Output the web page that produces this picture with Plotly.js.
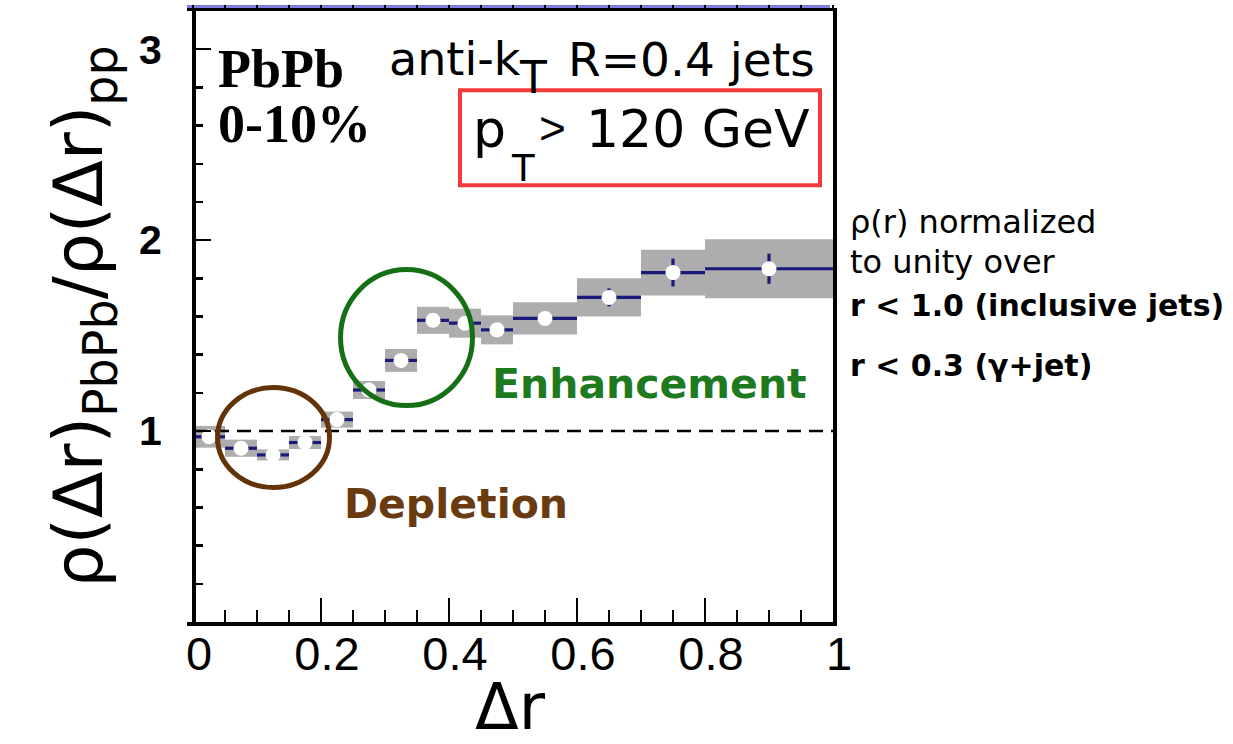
<!DOCTYPE html>
<html>
<head>
<meta charset="utf-8">
<script src="https://cdn.plot.ly/plotly-3.0.1.min.js"></script>
<style>
  html, body { margin: 0; padding: 0; background: #ffffff; }
  #chart { width: 1233px; height: 744px; }
</style>
</head>
<body>
<div id="chart"></div>
<script>
// Jet shape ratio rho(Δr) PbPb / pp, 0-10% centrality, anti-kT R=0.4, pT > 120 GeV
const binLow  = [0.00, 0.05, 0.10, 0.15, 0.20, 0.25, 0.30, 0.35, 0.40, 0.45, 0.50, 0.60, 0.70, 0.80];
const binHigh = [0.05, 0.10, 0.15, 0.20, 0.25, 0.30, 0.35, 0.40, 0.45, 0.50, 0.60, 0.70, 0.80, 1.00];
const ratio   = [0.97, 0.91, 0.875, 0.94, 1.06, 1.215, 1.37, 1.58, 1.565, 1.53, 1.59, 1.70, 1.83, 1.85];
const statErr = [0.010, 0.010, 0.010, 0.012, 0.015, 0.018, 0.020, 0.022, 0.025, 0.028, 0.032, 0.047, 0.073, 0.079];
const sysErr  = [0.057, 0.045, 0.029, 0.034, 0.042, 0.047, 0.060, 0.071, 0.076, 0.076, 0.084, 0.100, 0.120, 0.155];
const unityLevel = 1;

const xTickVals = [0, 0.2, 0.4, 0.6, 0.8, 1];
const xTickText = ['0', '0.2', '0.4', '0.6', '0.8', '1'];
const yTickVals = [1, 2, 3];
const yTickText = ['1', '2', '3'];

// derived bin geometry
const binCenter = binLow.map((lo, i) => (lo + binHigh[i]) / 2);
const binWidth  = binLow.map((lo, i) => binHigh[i] - lo);
const binHalf   = binWidth.map(w => w / 2);
const sysBase   = ratio.map((v, i) => v - sysErr[i]);
const sysSpan   = sysErr.map(e => 2 * e);

// page geometry (pixels)
const W = 1233, H = 744;
const M = { l: 187, r: 400, t: 11, b: 122 };
const plotW = W - M.l - M.r, plotH = H - M.t - M.b;
const xRange = [-0.009375, 1.0];
const yRange = [0, 3.2];
const px = x => (x - M.l) / plotW;          // pixel column -> paper x
const py = y => (H - M.b - y) / plotH;      // pixel row -> paper y

const NAVY = '#1a1a7a';
const SANS = 'DejaVu Sans, Verdana, sans-serif';
const ARIAL = 'Arial, Liberation Sans, Helvetica';
const SERIF = 'Times New Roman, Liberation Serif, serif';

const traces = [
  {
    type: 'bar',
    x: binCenter, width: binWidth, base: sysBase, y: sysSpan,
    marker: { color: '#adadad', line: { width: 0 } },
    hoverinfo: 'skip', showlegend: false
  },
  {
    type: 'scatter', mode: 'lines',
    x: [xTickVals[0], xTickVals[xTickVals.length - 1]],
    y: [unityLevel, unityLevel],
    line: { color: '#000000', width: 2.5, dash: '14px,8px' },
    hoverinfo: 'skip', showlegend: false
  },
  {
    type: 'scatter', mode: 'markers',
    x: binCenter, y: ratio,
    error_x: { type: 'data', array: binHalf, symmetric: true, width: 0, thickness: 3.2, color: NAVY },
    error_y: { type: 'data', array: statErr, symmetric: true, width: 0, thickness: 3.2, color: NAVY },
    marker: { color: '#ffffff', size: 15, line: { width: 0 } },
    showlegend: false
  },
  // placeholder so the frame axes (top ticks, right edge) get their own subplot
  {
    type: 'scatter', mode: 'markers',
    x: [xRange[0]], y: [yRange[0]], xaxis: 'x2', yaxis: 'y2',
    marker: { opacity: 0, size: 1 }, hoverinfo: 'skip', showlegend: false
  }
];

function ann(text, x, y, o) {
  return Object.assign({
    text: text, xref: 'paper', yref: 'paper', x: px(x), y: py(y),
    xanchor: 'left', yanchor: 'middle', showarrow: false,
    font: { family: SANS, size: 46, color: '#000000' }
  }, o || {});
}

const annotations = [
  ann('PbPb', 216, 69, { font: { family: SERIF, size: 54, weight: 'bold', color: '#000' } }),
  ann('0-10%', 216, 124, { font: { family: SERIF, size: 54, weight: 'bold', color: '#000' } }),
  ann('anti-k', 387, 59, { font: { family: SANS, size: 46, color: '#000' } }),
  ann('T', 533, 78, { xanchor: 'center', font: { family: SANS, size: 44, color: '#000' } }),
  ann('R=0.4 jets', 817, 59, { xanchor: 'right', font: { family: SANS, size: 47, color: '#000' } }),
  ann('p', 471, 129, { font: { family: SANS, size: 52, color: '#000' } }),
  ann('T', 523, 169, { xanchor: 'center', font: { family: SANS, size: 37, color: '#000' } }),
  ann('>', 552, 128, { xanchor: 'center', font: { family: ARIAL, size: 46, color: '#000' } }),
  ann('120 GeV', 812, 129, { xanchor: 'right', font: { family: SANS, size: 52, color: '#000' } }),
  ann('Enhancement', 649, 384, { xanchor: 'center', font: { family: SANS, size: 41, weight: 'bold', color: '#1e7a1e' } }),
  ann('Depletion', 456, 504, { xanchor: 'center', font: { family: SANS, size: 41, weight: 'bold', color: '#6a3a10' } }),
  ann('ρ(r) normalized', 848, 222, { font: { family: SANS, size: 32, color: '#000' } }),
  ann('to unity over', 848, 262, { font: { family: SANS, size: 32, color: '#000' } }),
  ann('r &lt; 1.0 (inclusive jets)', 848, 305, { font: { family: SANS, size: 30, weight: 'bold', color: '#000' } }),
  ann('r &lt; 0.3 (γ+jet)', 848, 365, { font: { family: SANS, size: 30, weight: 'bold', color: '#000' } })
];

const shapes = [
  // lavender band along the upper frame
  { type: 'line', xref: 'paper', yref: 'paper', x0: 0, x1: px(830), y0: py(7), y1: py(7),
    line: { color: '#8080e0', width: 4 }, layer: 'below' },
  // boxed pT selection
  { type: 'rect', xref: 'x', yref: 'y', x0: 0.4172, x1: 0.9797, y0: 2.288, y1: 2.785,
    line: { color: '#f43a3a', width: 4 }, layer: 'above' },
  // enhancement region
  { type: 'circle', xref: 'x', yref: 'y', x0: 0.2305, x1: 0.4367, y0: 1.1335, y1: 1.8455,
    line: { color: '#157015', width: 5 }, layer: 'above' },
  // depletion region
  { type: 'circle', xref: 'x', yref: 'y', x0: 0.0383, x1: 0.2133, y0: 0.704, y1: 1.2277,
    line: { color: '#643409', width: 5 }, layer: 'above' }
];

const layout = {
  width: W, height: H,
  margin: M,
  paper_bgcolor: '#ffffff', plot_bgcolor: '#ffffff',
  showlegend: false,
  barmode: 'overlay',
  xaxis: {
    range: xRange, showline: true, linecolor: '#000', linewidth: 3.5, mirror: true,
    ticks: 'inside', ticklen: 24, tickwidth: 2.5, tickcolor: '#000',
    tickmode: 'array', tickvals: xTickVals, ticktext: xTickText,
    minor: { tickmode: 'linear', tick0: 0, dtick: 0.05, ticks: 'inside', ticklen: 12, tickwidth: 2.5, tickcolor: '#000' },
    tickfont: { family: ARIAL, size: 47, color: '#000' },
    ticklabelstandoff: -12, ticklabelshift: 6,
    showgrid: false, zeroline: false,
    title: { text: 'Δr', font: { family: SANS, size: 64, color: '#000' }, standoff: 38 }
  },
  yaxis: {
    range: yRange, anchor: 'free', position: px(193),
    showline: true, linecolor: '#000', linewidth: 3.5,
    ticks: 'inside', ticklen: 15, tickwidth: 2.5, tickcolor: '#000',
    tickmode: 'array', tickvals: yTickVals, ticktext: yTickText,
    minor: { tickmode: 'linear', tick0: 0, dtick: 0.2, ticks: 'inside', ticklen: 7, tickwidth: 2.5, tickcolor: '#000' },
    tickfont: { family: ARIAL, size: 41, weight: 'bold', color: '#000' },
    ticklabelstandoff: 22,
    showgrid: false, zeroline: false,
    title: { text: 'ρ(Δr)<sub>PbPb</sub>/ρ(Δr)<sub>pp</sub>', font: { family: SANS, size: 68, color: '#000' }, standoff: 12 }
  },
  xaxis2: {
    overlaying: 'x', side: 'top', anchor: 'y2', range: xRange,
    showline: false, ticks: 'outside', ticklen: 5, tickwidth: 2.5, tickcolor: '#000',
    tickmode: 'linear', tick0: 0, dtick: 0.05, showticklabels: false,
    showgrid: false, zeroline: false
  },
  yaxis2: {
    overlaying: 'y', side: 'right', anchor: 'x2', range: yRange,
    showline: true, linecolor: '#000', linewidth: 3.5, ticks: '', showticklabels: false,
    showgrid: false, zeroline: false
  },
  annotations: annotations,
  shapes: shapes
};

Plotly.newPlot('chart', traces, layout, { staticPlot: true, displayModeBar: false });
</script>
</body>
</html>
